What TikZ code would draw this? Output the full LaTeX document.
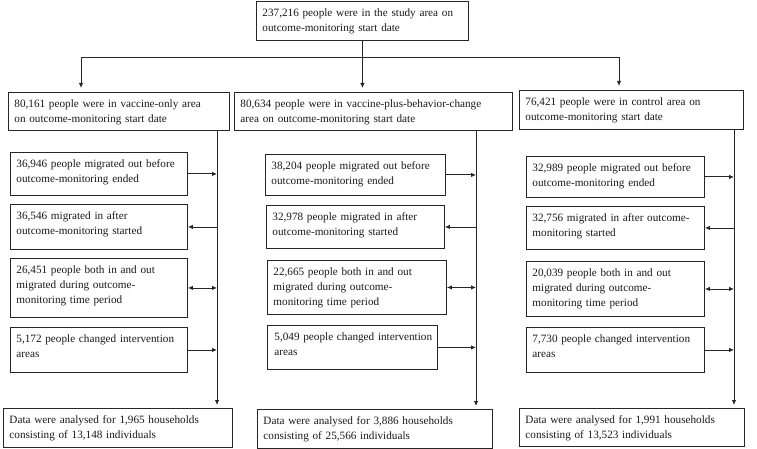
\documentclass[tikz,border=0pt]{standalone}
\usepackage{fontspec}
\setmainfont{Liberation Serif}
\usetikzlibrary{arrows.meta}

\begin{document}
\begin{tikzpicture}[
    x=1pt, y=-1pt,
    font={\fontsize{11.2}{15}\selectfont\hyphenpenalty=10000\exhyphenpenalty=10000},
    >={Latex[length=5pt,width=4.5pt]},
    line/.style={line width=0.9pt, black!85},
    flowbox/.style 2 args={draw=black!85, line width=0.9pt, rectangle, anchor=north west,
                           inner xsep=6pt, inner ysep=4pt, align=left, text=black!90,
                           text width=#1, text height=11pt, text depth=#2}
]
\useasboundingbox (0,0) rectangle (757,449);

% Study population
\node[flowbox={200pt}{20pt}] (study) at (256,1) {
    237,216 people were in the study area on\\
    outcome-monitoring start date};

% Intervention areas
\node[flowbox={209pt}{19pt}] (vonly) at (8,92) {
    80,161 people were in vaccine-only area\\
    on outcome-monitoring start date};
\node[flowbox={266pt}{19pt}] (vplus) at (234,92) {
    80,634 people were in vaccine-plus-behavior-change\\
    area on outcome-monitoring start date};
\node[flowbox={212pt}{20pt}] (ctrl) at (519,90) {
    76,421 people were in control area on\\
    outcome-monitoring start date};

% Vaccine-only column
\node[flowbox={165pt}{24pt}] (vo-out) at (10,152) {
    36,946 people migrated out before\\
    outcome-monitoring ended};
\node[flowbox={165pt}{26pt}] (vo-in) at (10,204) {
    36,546 migrated in after\\
    outcome-monitoring started};
\node[flowbox={165pt}{40pt}] (vo-both) at (10,258) {
    26,451 people both in and out\\
    migrated during outcome-\\
    monitoring time period};
\node[flowbox={165pt}{26pt}] (vo-chg) at (10,327) {
    5,172 people changed intervention\\
    areas};
\node[flowbox={217pt}{20pt}] (vo-data) at (3,408) {
    Data were analysed for 1,965 households\\
    consisting of 13,148 individuals};

% Vaccine-plus-behavior-change column
\node[flowbox={168pt}{22pt}] (vp-out) at (265,154) {
    38,204 people migrated out before\\
    outcome-monitoring ended};
\node[flowbox={166pt}{24pt}] (vp-in) at (266,205) {
    32,978 people migrated in after\\
    outcome-monitoring started};
\node[flowbox={167pt}{35pt}] (vp-both) at (267,260) {
    22,665 people both in and out\\
    migrated during outcome-\\
    monitoring time period};
\node[flowbox={164pt}{25pt}, inner xsep=3pt] (vp-chg) at (267,325) {
    \hspace{4pt}5,049 people changed intervention\\
    \hspace{4pt}areas};
\node[flowbox={223pt}{20pt}] (vp-data) at (257,409) {
    Data were analysed for 3,886 households\\
    consisting of 25,566 individuals};

% Control column
\node[flowbox={166pt}{22pt}] (c-out) at (526,156) {
    32,989 people migrated out before\\
    outcome-monitoring ended};
\node[flowbox={166pt}{24pt}] (c-in) at (526,206) {
    32,756 migrated in after outcome-\\
    monitoring started};
\node[flowbox={166pt}{36pt}] (c-both) at (526,261) {
    20,039 people both in and out\\
    migrated during outcome-\\
    monitoring time period};
\node[flowbox={166pt}{26pt}] (c-chg) at (526,327) {
    7,730 people changed intervention\\
    areas};
\node[flowbox={213pt}{19pt}] (c-data) at (519,408) {
    Data were analysed for 1,991 households\\
    consisting of 13,523 individuals};

% Split line and trunks
\coordinate (split-l) at (81,57);
\coordinate (split-r) at (619,57);
\coordinate (vo-trunk) at (217,130);
\coordinate (vp-trunk) at (476,130);
\coordinate (c-trunk) at (734,129);

\draw[line] (split-l) -- (split-r);
\draw[line, ->, shorten >=4pt] (study.south) -- (study.south |- vplus.north);
\draw[line, ->, shorten >=4pt] (split-l) -- (split-l |- vonly.north);
\draw[line, ->, shorten >=4pt] (split-r) -- (split-r |- ctrl.north);

% Migration arrows
\foreach \col in {vo, vp, c} {
    \draw[line, ->, shorten >=3pt] (\col-trunk) -- (\col-trunk |- \col-data.north);
    \draw[line, ->] (\col-out.east) -- (\col-out.east -| \col-trunk);
    \draw[line, <-] (\col-in.east) -- (\col-in.east -| \col-trunk);
    \draw[line, <->] (\col-both.east) -- (\col-both.east -| \col-trunk);
    \draw[line, ->] (\col-chg.east) -- (\col-chg.east -| \col-trunk);
}

\end{tikzpicture}
\end{document}
